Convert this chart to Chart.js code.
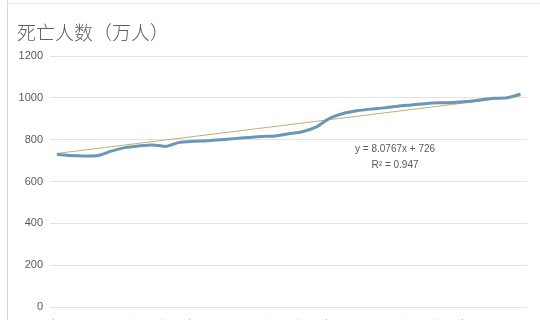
<!DOCTYPE html>
<html>
<head>
<meta charset="utf-8">
<script src="https://cdn.jsdelivr.net/npm/chart.js@4"></script>
<style>
  html, body { margin:0; padding:0; background:#fff; overflow:hidden; width:540px; height:320px; }
  #wrap { position:relative; width:540px; height:320px; overflow:hidden; }
  #edge { position:absolute; left:7px; top:0; width:1px; height:320px; background:#d6d6d6; }
  #topedge { position:absolute; left:7px; top:3px; width:533px; height:1px; background:#ececec; }
  canvas { position:absolute; left:0; top:0; }
</style>
</head>
<body>
<div id="wrap">
  <div id="edge"></div>
  <div id="topedge"></div>
  <canvas id="c" width="540" height="335"></canvas>
</div>
<script>
// ---- data ----
const titleText = '死亡人数（万人）';
const years = ['1987','1988','1989','1990','1991','1992','1993','1994','1995','1996',
               '1997','1998','1999','2000','2001','2002','2003','2004','2005','2006',
               '2007','2008','2009','2010','2011','2012','2013','2014','2015','2016',
               '2017','2018','2019','2020','2021'];
const deaths = [730, 724, 722, 724, 745, 762, 770, 775, 768, 787,
                792, 795, 800, 805, 810, 815, 818, 828, 838, 860,
                902, 925, 938, 946, 952, 960, 966, 972, 976, 978,
                982, 990, 998, 1000, 1018];
const trendEnds = [734.1, 1008.7];
const equationLines = ['y = 8.0767x + 726', 'R² = 0.947'];
const yTicks = [0, 200, 400, 600, 800, 1000, 1200];

const trendData = years.map((_, i) => i === 0 ? trendEnds[0] : (i === years.length - 1 ? trendEnds[1] : null));

const overlay = {
  id: 'overlay',
  afterDraw(chart) {
    const ctx = chart.ctx;
    ctx.save();
    ctx.fillStyle = '#5f5f5f';
    ctx.font = '300 19px "Noto Sans CJK SC"';
    ctx.textBaseline = 'middle';
    ctx.textAlign = 'left';
    ctx.fillText(titleText, 17, 33);
    const xs = chart.scales.x, ys = chart.scales.y;
    const cx = xs.getPixelForValue(24.8);
    const cy = ys.getPixelForValue(752);
    ctx.font = '10px "Liberation Sans"';
    ctx.textAlign = 'center';
    ctx.fillStyle = '#595959';
    ctx.fillText(equationLines[0], cx, cy);
    ctx.fillText(equationLines[1], cx, cy + 16);
    ctx.restore();
  }
};

new Chart(document.getElementById('c'), {
  type: 'line',
  data: {
    labels: years,
    datasets: [
      {
        data: deaths,
        borderColor: '#6a97b6',
        borderWidth: 3,
        pointRadius: 0,
        tension: 0.25,
        fill: false,
        order: 1
      },
      {
        data: trendData,
        borderColor: '#c2ad7c',
        borderWidth: 1,
        pointRadius: 0,
        spanGaps: true,
        fill: false,
        order: 2
      }
    ]
  },
  options: {
    responsive: false,
    animation: false,
    layout: { padding: { top: 56, right: 10, bottom: 0, left: 0 } },
    plugins: { legend: { display: false }, tooltip: { enabled: false }, title: { display: false } },
    scales: {
      x: {
        offset: true,
        grid: { display: false, drawTicks: false },
        border: { display: false },
        ticks: { color: '#b0b0b0', font: { size: 11, family: 'Liberation Sans' }, maxRotation: 45, minRotation: 45, padding: 10 },
        afterFit(s) { s.height = 28; }
      },
      y: {
        min: 0, max: 1200,
        afterBuildTicks(s) { s.ticks = yTicks.map(v => ({ value: v })); },
        grid: { color: '#e3e3e3', lineWidth: 1, drawTicks: false },
        border: { display: false },
        ticks: { color: '#595959', font: { size: 11, family: 'Liberation Sans' }, padding: 7, callback: (v) => String(v) },
        afterFit(s) { s.width = 50; }
      }
    }
  },
  plugins: [overlay]
});
</script>
</body>
</html>
